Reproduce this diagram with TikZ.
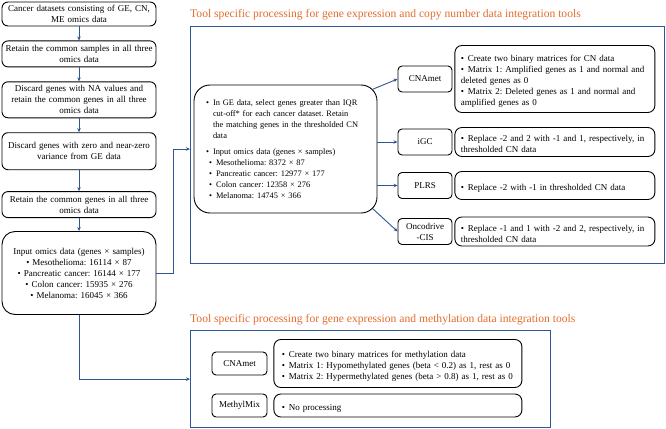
\documentclass[tikz,border=0pt]{standalone}
\usepackage{fontspec}
\setmainfont{Liberation Serif}
\usetikzlibrary{positioning,arrows.meta}

\definecolor{lineblue}{HTML}{2F5597}
\definecolor{headorange}{HTML}{E36C2F}

% bullet line with hanging indent: optional arg = extra indent
\newcommand{\bitem}[2][0pt]{\par\noindent\hangindent=\dimexpr#1+7pt\relax\hangafter=1\hspace*{#1}\makebox[7pt][l]{\textbullet}#2}

\frenchspacing

\begin{document}
\begin{tikzpicture}[x=1pt,y=-1pt,
  font=\fontsize{9}{11}\selectfont,
  stage/.style={draw, line width=0.9pt, rounded corners=6pt, minimum width=154pt,
    text width=148pt, inner xsep=3pt, inner ysep=2pt, align=center},
  tool/.style={draw, line width=0.9pt, rounded corners=4pt, minimum height=26pt,
    minimum width=54pt, inner sep=2pt, align=center},
  note/.style={draw, line width=0.9pt, rounded corners=7pt, text width=188pt,
    inner xsep=6pt, inner ysep=2pt, align=left},
  frame/.style={draw=lineblue, line width=1.2pt, anchor=north west, inner sep=0pt},
  head/.style={text=headorange, font=\fontsize{11.6}{13}\selectfont, anchor=base west, inner sep=0pt},
  link/.style={draw=lineblue, line width=0.9pt, -{Stealth[length=4pt,width=3.5pt]}}]

  \useasboundingbox (0,0) rectangle (666,428);

  %==================================================

  \node[stage, minimum height=24pt] (cancer) at (79,14) {Cancer datasets consisting of GE, CN,\\ ME omics data};
  \node[stage, minimum height=26pt, below=14pt of cancer] (samples) {Retain the common samples in all three\\ omics data};
  \node[stage, minimum height=36pt, below=14pt of samples] (nagenes) {Discard genes with NA values and\\ retain the common genes in all three\\ omics data};
  \node[stage, minimum height=37pt, below=14pt of nagenes] (variance) {Discard genes with zero and near-zero\\ variance from GE data};
  \node[stage, minimum height=26pt, below=21pt of variance] (common) {Retain the common genes in all three\\ omics data};
  \node[stage, minimum height=83pt, rounded corners=13pt, below=13pt of common] (input) {Input omics data (genes × samples)\\ • Mesothelioma: 16114 × 87\\ • Pancreatic cancer: 16144 × 177\\ • Colon cancer: 15935 × 276\\ • Melanoma: 16045 × 366};

  \draw[link] (cancer) -- (samples);
  \draw[link] (samples) -- (nagenes);
  \draw[link] (nagenes) -- (variance);
  \draw[link] (variance) -- (common);
  \draw[link] (common) -- (input);

  %==================================================

  \node[frame, minimum width=474pt, minimum height=237pt] (gecnframe) at (190,26) {};
  \node[head] (gecnhead) at (190,18) {Tool specific processing for gene expression and copy number data integration tools};

  \node[draw, line width=0.9pt, rounded corners=16pt, minimum width=183pt, minimum height=128pt,
    text width=167pt, inner xsep=8pt, align=left, font=\fontsize{8.4}{10.8}\selectfont] (gecn) at (285.5,149) {%
    \hspace*{4pt}\parbox{162pt}{%
    \bitem{In GE data, select genes greater than IQR\\ cut-off* for each cancer dataset. Retain\\ the matching genes in the thresholded CN\\ data}
    \par\vspace{6pt}
    \bitem{Input omics data (genes × samples)}
    \bitem[3pt]{Mesothelioma: 8372 × 87}
    \bitem[3pt]{Pancreatic cancer: 12977 × 177}
    \bitem[3pt]{Colon cancer: 12358 × 276}
    \bitem[3pt]{Melanoma: 14745 × 366}}};

  \node[tool] (cnamet) at (425,79) {CNAmet};
  \node[tool] (igc) at (425,142) {iGC};
  \node[tool] (plrs) at (425,185.5) {PLRS};
  \node[tool] (oncocis) at (425,231.5) {Oncodrive\\-CIS};

  \node[note, minimum height=67pt, right=2pt of cnamet] (cnametnote) {%
    \bitem{Create two binary matrices for CN data}
    \bitem{Matrix 1: Amplified genes as 1 and normal and\\ deleted genes as 0}
    \bitem{Matrix 2: Deleted genes as 1 and normal and\\ amplified genes as 0}};
  \node[note, minimum height=29pt, right=2pt of igc] (igcnote) {%
    \bitem{Replace -2 and 2  with -1 and 1, respectively, in\\ thresholded CN data}};
  \node[note, minimum height=28pt, right=2pt of plrs] (plrsnote) {%
    \bitem{Replace -2 with -1 in thresholded CN data}};
  \node[note, minimum height=29pt, right=2pt of oncocis] (oncocisnote) {%
    \bitem{Replace -1 and 1 with -2 and 2, respectively, in\\ thresholded CN data}};

  \coordinate (gecnne) at ([shift={(-4.7,4.7)}]gecn.north east);
  \coordinate (gecnse) at ([shift={(-4.7,-4.7)}]gecn.south east);

  \draw[link] (gecnne) -- (cnamet.west);
  \draw[link] (gecn.east |- igc) -- (igc.west);
  \draw[link] (gecn.east |- plrs) -- (plrs.west);
  \draw[link] (gecnse) -- (oncocis.west);

  %==================================================

  \node[frame, minimum width=360pt, minimum height=97pt] (gemeframe) at (190,330) {};
  \node[head] (gemehead) at (190,322) {Tool specific processing for gene expression and methylation data integration tools};

  \node[tool, minimum width=55pt, minimum height=23pt] (cnametme) at (239.5,363.5) {CNAmet};
  \node[tool, minimum width=55pt, minimum height=23pt] (methylmix) at (239.5,405.5) {MethylMix};

  \node[note, text width=232pt, inner xsep=8pt, minimum height=48pt, right=6pt of cnametme] (cnametmenote) {%
    \bitem{Create two binary matrices for methylation data}
    \bitem{Matrix 1: Hypomethylated genes (beta < 0.2) as 1, rest as 0}
    \bitem{Matrix 2: Hypermethylated genes (beta > 0.8) as 1, rest as 0}};
  \node[note, text width=232pt, inner xsep=8pt, minimum height=23pt, right=6pt of methylmix] (methylmixnote) {%
    \bitem{No processing}};

  %==================================================

  \draw[link] (input.east) -- ++(17,0) |- (gecnframe.west |- gecn);
  \draw[link] (input.south) |- (gemeframe.west);

\end{tikzpicture}
\end{document}
